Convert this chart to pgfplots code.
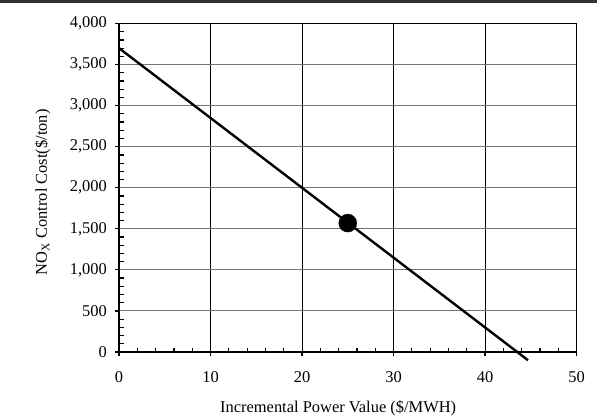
\documentclass[border=0pt]{standalone}
\usepackage{fontspec}
\setmainfont{Liberation Serif}
\usepackage{pgfplots}
\pgfplotsset{compat=1.18}
\begin{document}
\begin{tikzpicture}[x=1bp,y=1bp]
\path[use as bounding box] (0,0) rectangle (597,417);
\fill[black!80] (0,414) rectangle (597,417);
\begin{axis}[
  at={(119bp,65bp)}, anchor=south west,
  scale only axis, width=457.5bp, height=328.5bp,
  xmin=0, xmax=50, ymin=0, ymax=4000,
  xtick={0,10,...,50}, ytick={0,500,...,4000},
  minor x tick num=4, minor y tick num=4,
  tick align=inside, major tick length=0pt, minor tick length=4.5bp,
  xtick pos=bottom, ytick pos=left,
  extra x ticks={0,10,...,50}, extra x tick labels={},
  extra x tick style={tick align=outside, major tick length=4bp, grid=none},
  extra y ticks={0,500,...,4000}, extra y tick labels={},
  extra y tick style={tick align=outside, major tick length=4bp, grid=none},
  every tick/.style={black, line width=1.2bp},
  grid=major,
  x grid style={black, line width=0.8bp},
  y grid style={black!55, line width=0.9bp},
  axis line style={black, line width=1.8bp},
  tick label style={font=\fontsize{16.5}{19}\selectfont, inner sep=0pt},
  label style={font=\fontsize{16.5}{19}\selectfont},
  /pgf/number format/assume math mode=true,
  yticklabel style={/pgf/number format/1000 sep={,}, anchor=east, xshift=-12bp},
  xticklabel style={anchor=base, yshift=-30bp},
  scaled y ticks=false,
  clip=false,
  xlabel={Incremental Power Value (\$/MWH)},
  ylabel={NO\textsubscript{X} Control Cost(\$/ton)},
  xlabel style={at={(axis description cs:0.479,-0.184)}, anchor=base},
  ylabel style={at={(axis description cs:-0.167,0.486)}, anchor=center},
]
\addplot[black, line width=2.4bp, no markers] coordinates {(0,3700) (44.7,-100)};
\addplot[only marks, mark=*, mark size=9bp, black] coordinates {(25,1570)};
\end{axis}
\end{tikzpicture}
\end{document}
